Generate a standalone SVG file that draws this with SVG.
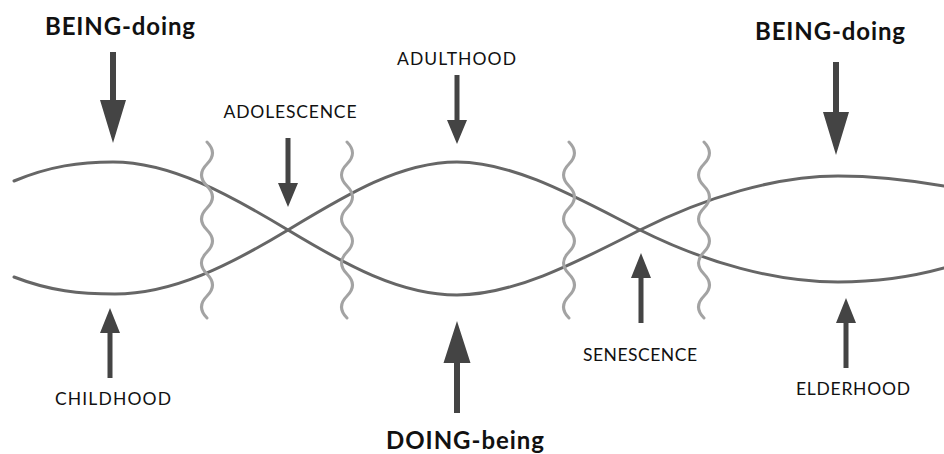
<svg xmlns="http://www.w3.org/2000/svg" width="944" height="454" viewBox="0 0 944 454">
<style>
.curve{fill:none;stroke:#666;stroke-width:3;stroke-linecap:round}
.wave{fill:none;stroke:#a3a3a3;stroke-width:3;stroke-linecap:round}
.arr{fill:#444;stroke:none}
.big{font-family:Lato,"Open Sans","Liberation Sans",sans-serif;font-weight:bold;font-size:24px;fill:#111;text-anchor:middle}
.lbl{font-family:Lato,"Open Sans","Liberation Sans",sans-serif;font-size:17.5px;fill:#111;text-anchor:middle}
</style>
<rect width="944" height="454" fill="#fff"/>
<g id="strands">
<path class="curve" d="M14,181 C50,166 80,162 113,162 C171,162 230,195 288,230 C346,265 400,295 457,295 C515,295 579,261 640,230 C706,197 776,176 838,176 C880,176 915,181 944,186"/>
<path class="curve" d="M14,277 C50,291 80,294 115,294 C173,294 230,265 288,230 C346,195 400,162 457,162 C515,162 579,199 640,230 C706,263 776,282 838,282 C880,282 915,276 944,268"/>
</g>
<g id="transitions">
<path class="wave" d="M207,142 q11,11 0,22 t0,22 t0,22 t0,22 t0,22 t0,22 t0,22 t0,22"/>
<path class="wave" d="M347,142 q11,11 0,22 t0,22 t0,22 t0,22 t0,22 t0,22 t0,22 t0,22"/>
<path class="wave" d="M569,142 q11,11 0,22 t0,22 t0,22 t0,22 t0,22 t0,22 t0,22 t0,22"/>
<path class="wave" d="M704,142 q11,11 0,22 t0,22 t0,22 t0,22 t0,22 t0,22 t0,22 t0,22"/>
</g>
<g id="connectors">
<path class="arr" d="M110,52 h6 v48 h10 l-13,43 l-13,-43 h10 z"/>
<path class="arr" d="M833,62 h6 v50 h10 l-13,43 l-13,-43 h10 z"/>
<path class="arr" d="M454,413 h6 v-50 h10.5 l-13.5,-42 l-13.5,42 h10.5 z"/>
<path class="arr" d="M285.5,138 h5 v45 h7.5 l-10,24 l-10,-24 h7.5 z"/>
<path class="arr" d="M454.5,75 h5 v45 h7.5 l-10,24 l-10,-24 h7.5 z"/>
<path class="arr" d="M107.5,378 h5 v-45 h7.5 l-10,-25 l-10,25 h7.5 z"/>
<path class="arr" d="M638.5,323 h5 v-45 h7.5 l-10,-25 l-10,25 h7.5 z"/>
<path class="arr" d="M843.5,368 h5 v-45 h7.5 l-10,-25 l-10,25 h7.5 z"/>
</g>
<g id="being-doing-left"><text class="big" x="120" y="35" textLength="150">BEING-doing</text></g>
<g id="being-doing-right"><text class="big" x="830" y="40" textLength="150">BEING-doing</text></g>
<g id="doing-being"><text class="big" x="465" y="449" textLength="158">DOING-being</text></g>
<g id="adolescence"><text class="lbl" x="290" y="118" textLength="133">ADOLESCENCE</text></g>
<g id="adulthood"><text class="lbl" x="456.5" y="65" textLength="119">ADULTHOOD</text></g>
<g id="childhood"><text class="lbl" x="113" y="405" textLength="116">CHILDHOOD</text></g>
<g id="senescence"><text class="lbl" x="640" y="361" textLength="114">SENESCENCE</text></g>
<g id="elderhood"><text class="lbl" x="853" y="395" textLength="114">ELDERHOOD</text></g>
</svg>
